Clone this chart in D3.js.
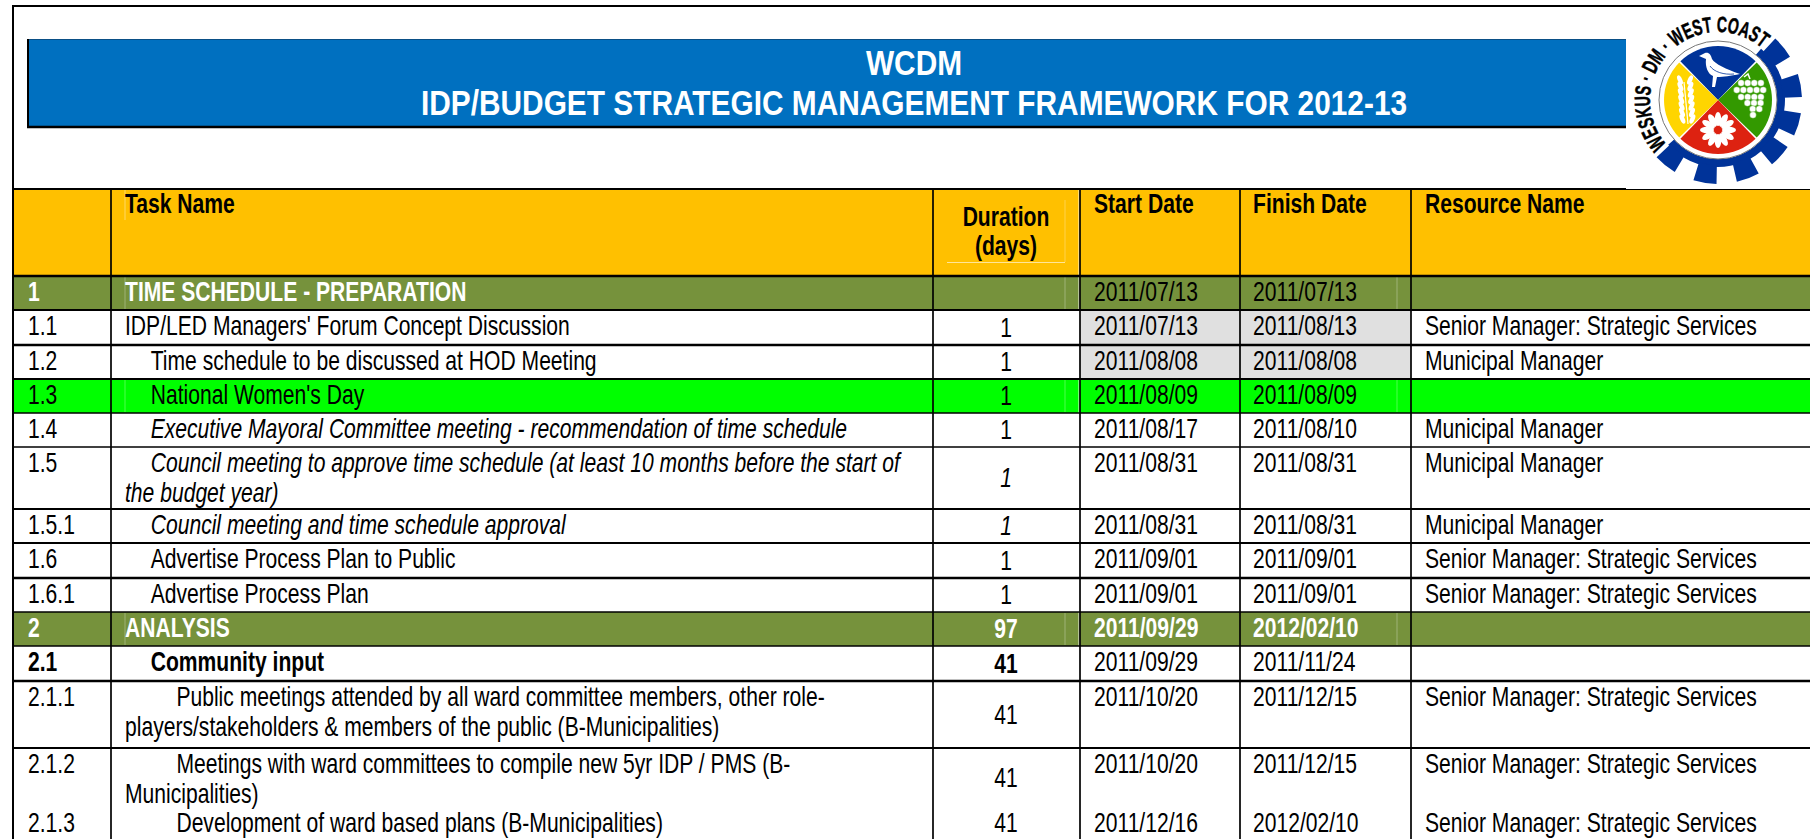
<!DOCTYPE html>
<html>
<head>
<meta charset="utf-8">
<script src="https://cdn.jsdelivr.net/npm/d3@7"></script>
<style>
  html, body { margin: 0; padding: 0; background: #fff; overflow: hidden; }
  svg { display: block; font-family: "Liberation Sans", Arial, sans-serif; }
</style>
</head>
<body>
<div id="chartContainer"></div>
<script>
// table content
const titleLines = ["WCDM", "IDP/BUDGET STRATEGIC MANAGEMENT FRAMEWORK FOR 2012-13"];
const headers = ["", "Task Name", "Duration\n(days)", "Start Date", "Finish Date", "Resource Name"];

const ids = ["1", "1.1", "1.2", "1.3", "1.4", "1.5", "1.5.1", "1.6", "1.6.1", "2", "2.1", "2.1.1", "2.1.2", "2.1.3"];
const taskNames = [
  "TIME SCHEDULE - PREPARATION",
  "IDP/LED Managers' Forum Concept Discussion",
  "Time schedule to be discussed at HOD Meeting",
  "National Women's Day",
  "Executive Mayoral Committee meeting - recommendation of time schedule",
  "Council meeting to approve time schedule (at least 10 months before the start of\nthe budget year)",
  "Council meeting and time schedule approval",
  "Advertise Process Plan to Public",
  "Advertise Process Plan",
  "ANALYSIS",
  "Community input",
  "Public meetings attended by all ward committee members, other role-\nplayers/stakeholders & members of the public (B-Municipalities)",
  "Meetings with ward committees to compile new 5yr IDP / PMS (B-\nMunicipalities)",
  "Development of ward based plans (B-Municipalities)"
];
const durations = ["", 1, 1, 1, 1, 1, 1, 1, 1, 97, 41, 41, 41, 41];
const startDates = ["2011/07/13", "2011/07/13", "2011/08/08", "2011/08/09", "2011/08/17", "2011/08/31", "2011/08/31", "2011/09/01", "2011/09/01", "2011/09/29", "2011/09/29", "2011/10/20", "2011/10/20", "2011/12/16"];
const finishDates = ["2011/07/13", "2011/08/13", "2011/08/08", "2011/08/09", "2011/08/10", "2011/08/31", "2011/08/31", "2011/09/01", "2011/09/01", "2012/02/10", "2011/11/24", "2011/12/15", "2011/12/15", "2012/02/10"];
const resources = ["", "Senior Manager: Strategic Services", "Municipal Manager", "", "Municipal Manager", "Municipal Manager", "Municipal Manager", "Senior Manager: Strategic Services", "Senior Manager: Strategic Services", "", "", "Senior Manager: Strategic Services", "Senior Manager: Strategic Services", "Senior Manager: Strategic Services"];

// layout
const width = 1810;
const height = 839;
const columns = ["id", "task", "duration", "start", "finish", "resource"];
const x = d3.scaleOrdinal().domain(columns).range([13, 111, 933, 1080, 1240, 1411]);
const textX = d3.scaleOrdinal().domain(columns).range([28, 125, 1006, 1094, 1253, 1425]);
const y = d3.scaleOrdinal().domain(ids).range([276, 310, 345, 379, 413, 447, 509, 543, 578, 612, 646, 681, 748, 807]);
const rowBottom = id => { const i = ids.indexOf(id); return i < ids.length - 1 ? y(ids[i + 1]) : height; };
const lineWeight = d3.scaleOrdinal().domain(ids).range([2.5, 2, 2.5, 2, 1.5, 1.5, 2, 2, 2.5, 1.5, 1.5, 2.5, 2, 0]);
const indent = d3.scaleOrdinal().domain(ids).range([0, 0, 1, 1, 1, 1, 1, 1, 1, 0, 1, 2, 2, 2]);
const indentStep = 25.7;

const fontSize = 21.1;
const stretch = 1.27; // the source text is tall and narrow
const sectionIds = ["1", "2"];
const greenIds = ["1.3"];
const italicTask = ["1.4", "1.5", "1.5.1"];
const italicDuration = ["1.5", "1.5.1"];
const colors = { header: "#FFC000", section: "#76923C", green: "#00FF00", gray: "#E0E0E0", banner: "#0070C0" };

const svg = d3.select("#chartContainer").append("svg")
  .attr("width", width)
  .attr("height", height)
  .attr("viewBox", [0, 0, width, height]);

function put(g, items) {
  g.selectAll(null)
    .data(items)
    .join("text")
    .attr("transform", d => `translate(${d.x},${d.y}) scale(${d.sx || 1},${d.sy || stretch})`)
    .attr("font-size", d => d.size || fontSize)
    .attr("font-weight", d => d.bold ? "bold" : "normal")
    .attr("font-style", d => d.italic ? "italic" : "normal")
    .attr("text-anchor", d => d.anchor || "start")
    .attr("fill", d => d.fill || "#000")
    .text(d => d.text);
}

// banner
svg.append("rect").attr("x", 27).attr("y", 39).attr("width", 1599).attr("height", 88).attr("fill", colors.banner);
svg.append("line").attr("x1", 27).attr("x2", 1626).attr("y1", 39.5).attr("y2", 39.5).attr("stroke", "#0a4f86").attr("stroke-width", 1);
svg.append("line").attr("x1", 27).attr("x2", 1626).attr("y1", 127).attr("y2", 127).attr("stroke", "#000").attr("stroke-width", 2.5);
svg.append("line").attr("x1", 28).attr("x2", 28).attr("y1", 39).attr("y2", 128).attr("stroke", "#000").attr("stroke-width", 2);
put(svg.append("g"), [
  { x: 914, y: 75, text: titleLines[0], bold: true, size: 29.85, anchor: "middle", fill: "#fff", sy: 1.2 },
  { x: 914, y: 115, text: titleLines[1], bold: true, size: 29.85, anchor: "middle", fill: "#fff", sy: 1.2 }
]);

// row fills
svg.append("rect").attr("x", x("id")).attr("y", 189).attr("width", width - x("id")).attr("height", 87).attr("fill", colors.header);
const fills = svg.append("g");
fills.selectAll("rect")
  .data(ids.filter(id => sectionIds.includes(id) || greenIds.includes(id)))
  .join("rect")
  .attr("x", x("id"))
  .attr("y", d => y(d))
  .attr("width", width - x("id"))
  .attr("height", d => rowBottom(d) - y(d))
  .attr("fill", d => sectionIds.includes(d) ? colors.section : colors.green);
// grey date cells
fills.selectAll("rect.grey")
  .data(["1.1", "1.2"])
  .join("rect")
  .attr("class", "grey")
  .attr("x", x("start"))
  .attr("y", d => y(d))
  .attr("width", x("resource") - x("start"))
  .attr("height", d => rowBottom(d) - y(d))
  .attr("fill", colors.gray);

// faint cell edges showing through the coloured rows
const faint = svg.append("g").attr("stroke", "#fff").attr("stroke-width", 1);
const colouredIds = sectionIds.concat(greenIds);
colouredIds.forEach(id => {
  [125, 1065, 1397].forEach(px => {
    faint.append("line").attr("x1", px).attr("x2", px).attr("y1", y(id) + 1).attr("y2", rowBottom(id) - 1).attr("stroke-opacity", 0.3);
  });
  faint.append("line").attr("x1", 1079).attr("x2", 1079).attr("y1", y(id)).attr("y2", rowBottom(id)).attr("stroke-opacity", 0.9);
});
faint.append("line").attr("x1", 125).attr("x2", 125).attr("y1", 190).attr("y2", 220).attr("stroke-opacity", 0.4);
faint.append("line").attr("x1", 947).attr("x2", 1065).attr("y1", 262.5).attr("y2", 262.5).attr("stroke-opacity", 0.6);
faint.append("line").attr("x1", 1065).attr("x2", 1065).attr("y1", 200).attr("y2", 262).attr("stroke-opacity", 0.3);
faint.append("line").attr("x1", 1079).attr("x2", 1079).attr("y1", 190).attr("y2", 275).attr("stroke-opacity", 0.9);

// grid
const grid = svg.append("g").attr("stroke", "#000");
grid.selectAll("line.row")
  .data(ids)
  .join("line")
  .attr("class", "row")
  .attr("x1", x("id"))
  .attr("x2", width)
  .attr("y1", d => y(d))
  .attr("y2", d => y(d))
  .attr("stroke-width", d => lineWeight(d));
grid.selectAll("line.col")
  .data(columns.slice(1))
  .join("line")
  .attr("class", "col")
  .attr("x1", d => x(d))
  .attr("x2", d => x(d))
  .attr("y1", 189)
  .attr("y2", height)
  .attr("stroke-width", 1.7);
grid.append("line").attr("x1", 13).attr("x2", 13).attr("y1", 5).attr("y2", height).attr("stroke-width", 2);
grid.append("line").attr("x1", 12).attr("x2", width).attr("y1", 6).attr("y2", 6).attr("stroke-width", 2);
grid.append("line").attr("x1", 13).attr("x2", 1626).attr("y1", 189).attr("y2", 189).attr("stroke-width", 2);
grid.append("line").attr("x1", 1626).attr("x2", width).attr("y1", 189.5).attr("y2", 189.5).attr("stroke-width", 1);

// header text
const headerItems = [];
columns.forEach((c, i) => {
  if (c === "duration") {
    headers[i].split("\n").forEach((t, k) => headerItems.push({ x: textX(c), y: 226 + k * 29, text: t, bold: true, anchor: "middle" }));
  } else if (headers[i]) {
    headerItems.push({ x: textX(c), y: 213, text: headers[i], bold: true });
  }
});
put(svg.append("g"), headerItems);

// body text
const bodyItems = [];
ids.forEach((id, i) => {
  const top = y(id);
  const base = top + 24.5;
  const mid = (top + rowBottom(id)) / 2 + 9;
  const isSection = sectionIds.includes(id);
  const boldRow = isSection || id === "2.1";
  const whiteRow = isSection ? "#fff" : "#000";
  bodyItems.push({ x: textX("id"), y: base, text: id, bold: boldRow, fill: whiteRow });
  taskNames[i].split("\n").forEach((t, k) => {
    bodyItems.push({
      x: textX("task") + (k === 0 ? indent(id) * indentStep : 0),
      y: base + k * 30,
      text: t,
      bold: boldRow,
      italic: italicTask.includes(id),
      fill: whiteRow
    });
  });
  if (durations[i] !== "") {
    bodyItems.push({ x: textX("duration"), y: mid, text: durations[i], anchor: "middle", bold: boldRow, italic: italicDuration.includes(id), fill: whiteRow });
  }
  const boldDate = id === "2";
  bodyItems.push({ x: textX("start"), y: base, text: startDates[i], bold: boldDate, fill: boldDate ? "#fff" : "#000" });
  bodyItems.push({ x: textX("finish"), y: base, text: finishDates[i], bold: boldDate, fill: boldDate ? "#fff" : "#000" });
  if (resources[i]) bodyItems.push({ x: textX("resource"), y: base, text: resources[i] });
});
put(svg.append("g"), bodyItems);

// logo
const logo = svg.append("g").attr("transform", "translate(1718,100)");
const deg = Math.PI / 180;
const logoBlue = "#003399";
const teeth = [51, 80, 107, 132, 159, 189, 219];
logo.append("path")
  .attr("d", d3.arc()({ innerRadius: 59, outerRadius: 67, startAngle: 40 * deg, endAngle: 228 * deg }))
  .attr("fill", logoBlue);
logo.selectAll("path.tooth")
  .data(teeth)
  .join("path")
  .attr("class", "tooth")
  .attr("d", a => d3.arc()({ innerRadius: 65, outerRadius: 84, startAngle: (a - 8) * deg, endAngle: (a + 8) * deg }))
  .attr("fill", logoBlue);
logo.append("circle").attr("r", 59).attr("fill", "#fff").attr("stroke", "#777").attr("stroke-width", 1);
const quadrants = [
  { a: -45, fill: logoBlue },
  { a: 45, fill: "#339900" },
  { a: 135, fill: "#DD2211" },
  { a: 225, fill: "#FFD500" }
];
logo.selectAll("path.quad")
  .data(quadrants)
  .join("path")
  .attr("class", "quad")
  .attr("d", d => d3.arc()({ innerRadius: 0, outerRadius: 54, startAngle: d.a * deg, endAngle: (d.a + 90) * deg, padAngle: 0.03, padRadius: 54 }))
  .attr("fill", d => d.fill);

// bird
logo.append("path")
  .attr("d", "M-19,-44 L-13,-47 C-9,-48 -7,-45 -6,-41 C-3,-36 8,-31 22,-26 C12,-24 6,-23 -1,-23 L-3,-13 L-6,-13 L-5,-24 C-10,-26 -13,-33 -12,-41 Z")
  .attr("fill", "#fff");
logo.append("path")
  .attr("d", "M-8,-34 C-4,-28 6,-25 16,-26")
  .attr("fill", "none")
  .attr("stroke", logoBlue)
  .attr("stroke-width", 0.8);

// flower
const petals = logo.append("g").attr("transform", "translate(0,30)");
d3.range(0, 360, 30).forEach(a => {
  petals.append("ellipse").attr("cx", 0).attr("cy", -11).attr("rx", 3.2).attr("ry", 7).attr("fill", "#fff").attr("transform", `rotate(${a})`);
});
petals.append("circle").attr("r", 2.5).attr("fill", "#DD2211");

// grapes
const grapeRows = [[33, -17, 4], [32, -10, 5], [33, -3, 4], [36, 3, 3], [38, 9, 2], [35, 15, 1]];
const grapes = logo.append("g");
grapeRows.forEach(([cx, cy, n]) => {
  d3.range(n).forEach(k => {
    grapes.append("circle").attr("cx", cx + (k - (n - 1) / 2) * 6.6).attr("cy", cy).attr("r", 3.3).attr("fill", "#fff").attr("stroke", "#339900").attr("stroke-width", 0.4);
  });
});
logo.append("path").attr("d", "M32,-21 L30,-26 L26,-23").attr("fill", "none").attr("stroke", "#fff").attr("stroke-width", 1.5);

// wheat
const wheat = logo.append("g");
wheat.append("line").attr("x1", -34).attr("y1", -18).attr("x2", -30).attr("y2", 24).attr("stroke", "#fff").attr("stroke-width", 1.2);
d3.range(0, 7).forEach(k => {
  const cy = -20 + k * 6.5;
  wheat.append("ellipse").attr("cx", -38 + k * 0.4).attr("cy", cy).attr("rx", 2.2).attr("ry", 5).attr("fill", "#fff").attr("transform", `rotate(-25 ${-38 + k * 0.4} ${cy})`);
  wheat.append("ellipse").attr("cx", -28 + k * 0.4).attr("cy", cy).attr("rx", 2.2).attr("ry", 5).attr("fill", "#fff").attr("transform", `rotate(25 ${-28 + k * 0.4} ${cy})`);
});

// ring lettering
const ringR = 68;
const ringStart = -131 * deg;
const ringEnd = 42 * deg;
const pt = a => [ringR * Math.sin(a), -ringR * Math.cos(a)];
const ringPath = d3.path();
ringPath.moveTo(...pt(ringStart));
ringPath.arc(0, 0, ringR, ringStart - Math.PI / 2, ringEnd - Math.PI / 2, false);
logo.append("path").attr("id", "logoRing").attr("d", ringPath.toString()).attr("fill", "none");
logo.append("text")
  .attr("font-size", 22)
  .attr("font-weight", "bold")
  .attr("fill", "#000")
  .attr("stroke", "#000")
  .attr("stroke-width", 0.5)
  .append("textPath")
  .attr("href", "#logoRing")
  .attr("textLength", 203)
  .attr("lengthAdjust", "spacingAndGlyphs")
  .text("WESKUS · DM · WEST COAST");
</script>
</body>
</html>
